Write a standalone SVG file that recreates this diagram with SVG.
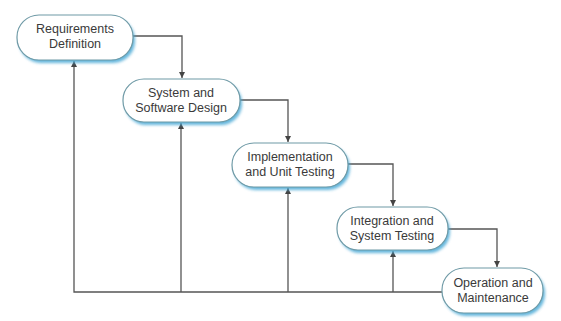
<svg xmlns="http://www.w3.org/2000/svg" width="561" height="321" viewBox="0 0 561 321">
  <defs>
    <filter id="glow" x="-20%" y="-30%" width="140%" height="160%">
      <feGaussianBlur stdDeviation="1.6"/>
    </filter>
    <marker id="arrow" viewBox="0 0 6 6" refX="6" refY="3" markerWidth="6" markerHeight="6" markerUnits="userSpaceOnUse" orient="auto">
      <path d="M0,0 L6,3 L0,6 z" fill="#444"/>
    </marker>
  </defs>
  <style>
    .shadow { fill: #48a9d6; filter: url(#glow); opacity: 0.85; }
    .box { fill: #ffffff; stroke: #6f9aa6; stroke-width: 1.2; }
    .label { font-family: "Liberation Sans", Arial, sans-serif; font-size: 12.5px; fill: #3a3a3a; text-anchor: middle; }
    .wire { fill: none; stroke: #555; stroke-width: 1.3; }
  </style>
  <rect width="561" height="321" fill="#ffffff"/>

  <!-- phase flow and feedback lines -->
  <g id="connectors">
    <path class="wire" d="M133,36 H182 V78" marker-end="url(#arrow)"/>
    <path class="wire" d="M240,100 H288 V142" marker-end="url(#arrow)"/>
    <path class="wire" d="M348,164 H393 V206" marker-end="url(#arrow)"/>
    <path class="wire" d="M448,229 H497 V267" marker-end="url(#arrow)"/>
    <path class="wire" d="M442,292 H74 V61" marker-end="url(#arrow)"/>
    <path class="wire" d="M181,292 V123" marker-end="url(#arrow)"/>
    <path class="wire" d="M288,292 V188" marker-end="url(#arrow)"/>
    <path class="wire" d="M393,292 V251" marker-end="url(#arrow)"/>
  </g>

  <g id="requirements">
    <rect class="shadow" x="19" y="18" width="116" height="45" rx="22"/>
    <rect class="box" x="17" y="15" width="116" height="45" rx="22"/>
    <text class="label" x="75" y="33">Requirements</text>
    <text class="label" x="75" y="48">Definition</text>
  </g>

  <g id="design">
    <rect class="shadow" x="125" y="82" width="117" height="43" rx="21"/>
    <rect class="box" x="123" y="79" width="117" height="43" rx="21"/>
    <text class="label" x="181" y="97">System and</text>
    <text class="label" x="181" y="112">Software Design</text>
  </g>

  <g id="implementation">
    <rect class="shadow" x="234" y="146" width="116" height="44" rx="22"/>
    <rect class="box" x="232" y="143" width="116" height="44" rx="22"/>
    <text class="label" x="290" y="161">Implementation</text>
    <text class="label" x="290" y="176">and Unit Testing</text>
  </g>

  <g id="integration">
    <rect class="shadow" x="339" y="210" width="111" height="43" rx="21"/>
    <rect class="box" x="337" y="207" width="111" height="43" rx="21"/>
    <text class="label" x="392" y="225">Integration and</text>
    <text class="label" x="392" y="240">System Testing</text>
  </g>

  <g id="operation">
    <rect class="shadow" x="444" y="271" width="101" height="45" rx="22"/>
    <rect class="box" x="442" y="268" width="101" height="45" rx="22"/>
    <text class="label" x="493" y="287">Operation and</text>
    <text class="label" x="493" y="302">Maintenance</text>
  </g>
</svg>
